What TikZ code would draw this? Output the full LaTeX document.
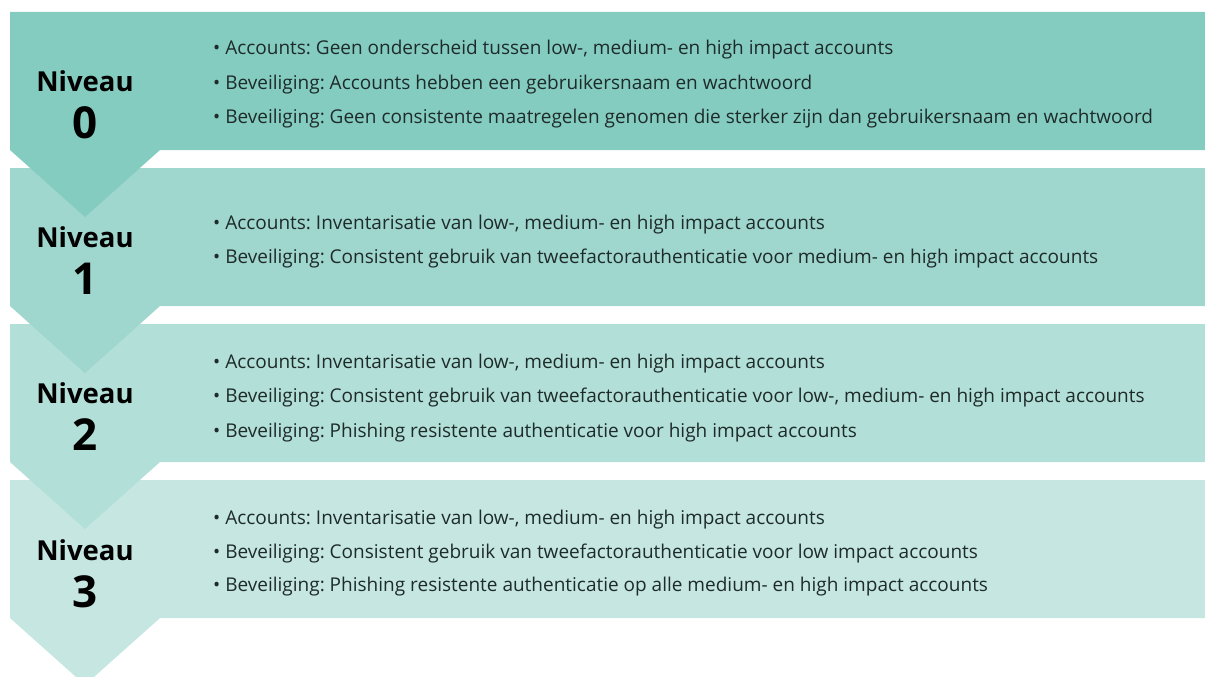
\documentclass[tikz,border=0pt]{standalone}
\usepackage{fontspec}
\setmainfont{Open Sans}
\definecolor{bandA}{HTML}{85CCC0}
\definecolor{bandB}{HTML}{9FD6CD}
\definecolor{bandC}{HTML}{B2DFD7}
\definecolor{bandD}{HTML}{C6E7E1}
\definecolor{txt}{HTML}{1E2B2B}
\tikzset{
  lvl/.style={font=\fontsize{27.5}{30}\selectfont\bfseries, text=black, inner sep=0pt},
  num/.style={font=\fontsize{44}{46}\selectfont\bfseries, text=black, inner sep=0pt},
  item/.style={anchor=base west, font=\fontsize{19}{22}\selectfont\frenchspacing, text=txt, inner sep=0pt},
}
\newcommand{\bandshape}[2]{%
  \fill[#2] (10,#1) -- (1205,#1) -- (1205,#1+138) -- (160,#1+138) -- (85,#1+205) -- (10,#1+138) -- cycle;}
\begin{document}
\begin{tikzpicture}[x=1pt,y=-1pt]
\useasboundingbox (0,0) rectangle (1205,677);
\begin{scope}
\clip (0,0) rectangle (1205,677);
\bandshape{480}{bandD}
\bandshape{324}{bandC}
\bandshape{168}{bandB}
\bandshape{12}{bandA}
\end{scope}
% level 0
\node[lvl] (n0) at (85,81) {Niveau};
\node[num] (d0) at (85,123) {0};
\node[item] (a0) at (213,55) {\textbullet\ Accounts: Geen onderscheid tussen low-, medium- en high impact accounts};
\node[item] (b0) at (213,89) {\textbullet\ Beveiliging: Accounts hebben een gebruikersnaam en wachtwoord};
\node[item] (c0) at (213,123) {\textbullet\ Beveiliging: Geen consistente maatregelen genomen die sterker zijn dan gebruikersnaam en wachtwoord};
% level 1
\node[lvl] (n1) at (85,237) {Niveau};
\node[num] (d1) at (85,279) {1};
\node[item] (a1) at (213,229) {\textbullet\ Accounts: Inventarisatie van low-, medium- en high impact accounts};
\node[item] (b1) at (213,263) {\textbullet\ Beveiliging: Consistent gebruik van tweefactorauthenticatie voor medium- en high impact accounts};
% level 2
\node[lvl] (n2) at (85,393) {Niveau};
\node[num] (d2) at (85,435) {2};
\node[item] (a2) at (213,368) {\textbullet\ Accounts: Inventarisatie van low-, medium- en high impact accounts};
\node[item] (b2) at (213,402) {\textbullet\ Beveiliging: Consistent gebruik van tweefactorauthenticatie voor low-, medium- en high impact accounts};
\node[item] (c2) at (213,437) {\textbullet\ Beveiliging: Phishing resistente authenticatie voor high impact accounts};
% level 3
\node[lvl] (n3) at (85,550) {Niveau};
\node[num] (d3) at (85,592) {3};
\node[item] (a3) at (213,524) {\textbullet\ Accounts: Inventarisatie van low-, medium- en high impact accounts};
\node[item] (b3) at (213,558) {\textbullet\ Beveiliging: Consistent gebruik van tweefactorauthenticatie voor low impact accounts};
\node[item] (c3) at (213,591) {\textbullet\ Beveiliging: Phishing resistente authenticatie op alle medium- en high impact accounts};
\end{tikzpicture}
\end{document}
